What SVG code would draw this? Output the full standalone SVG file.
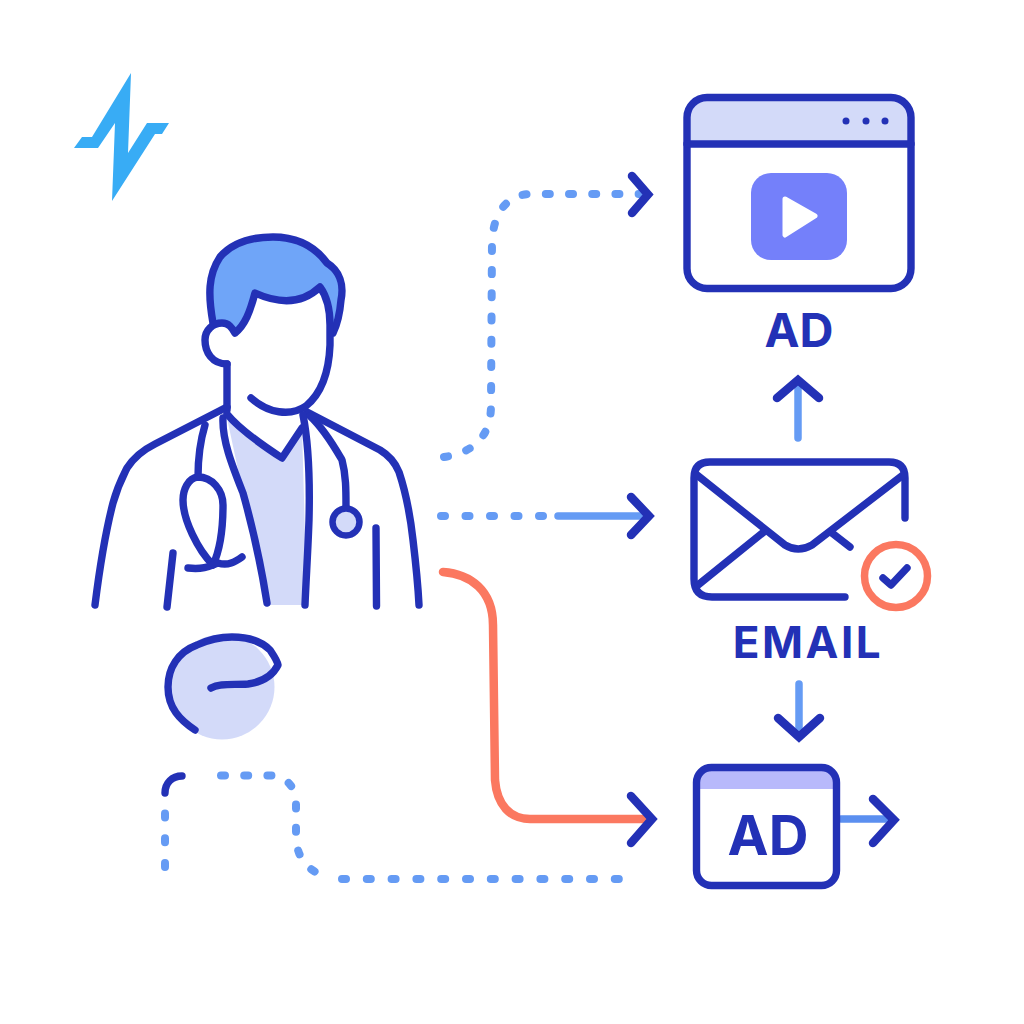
<svg xmlns="http://www.w3.org/2000/svg" width="1024" height="1024" viewBox="0 0 1024 1024">
<style>
.ink{fill:none;stroke:#2331b6;stroke-width:7.400;stroke-linecap:round;stroke-linejoin:round}
.head{fill:none;stroke:#2331b6;stroke-width:8.500;stroke-linecap:round;stroke-linejoin:miter}
.dash{fill:none;stroke:#659bf4;stroke-width:8;stroke-linecap:round;stroke-linejoin:round;stroke-dasharray:4 19.200}
.wide{stroke-dasharray:4 20.800}
.mid{stroke-dasharray:4 20.500}
.solid{fill:none;stroke:#659bf4;stroke-width:7.500;stroke-linecap:round}
.coral{fill:none;stroke:#fb7860;stroke-width:8.500;stroke-linecap:round;stroke-linejoin:round}
.pale{fill:#d3daf9}
.label{font-family:Inter,"Liberation Sans",Arial,sans-serif;font-weight:700;fill:#2331b6;text-anchor:middle}
</style>
<rect width="1024" height="1024" fill="#ffffff"/>
<g id="logo"><path fill="#38acf5" d="M131 73L128 153L147 123H169L162 134H155L112 201L115 123L98 148H74L82 137H92Z"/></g>
<g id="doctor">
<path class="pale" d="M227 418L282 458L302 428L307 605H270L257 547L243 493Z"/>
<path fill="#6fa5f8" d="M213 323C208 295 208 275 220 257C232 243 252 237 273 237C298 237 316 248 327 263C340 271 344 285 341 300C340 312 337 325 333 333C332 310 328 298 320 287C300 306 275 302 255 293C250 312 245 325 235 333C230 324 222 322 213 323Z"/>
<path class="ink" d="M213 323C208 295 208 275 220 257C232 243 252 237 273 237C298 237 316 248 327 263C340 271 344 285 341 300C340 312 337 325 333 333"/>
<path class="ink" d="M227 364C212 364 205 352 205 340C205 330 213 323 222 323C229 323 232 328 235 333C245 325 250 312 255 293C275 302 300 306 320 287C328 298 330 312 330 325V345C329 370 322 393 306 406C290 417 268 413 251 398"/>
<path class="ink" d="M227 364V410"/>
<path class="ink" d="M95 605C100 565 106 530 113 503C118 485 122 478 127 468C134 457 143 450 155 444L227 407"/>
<path class="ink" d="M307 412L380 450C390 456 395 462 399 472C405 490 410 513 413 540C416 565 418 585 419 605"/>
<path class="ink" d="M223 418C222 440 232 465 243 493C252 525 261 565 267 603"/>
<path class="ink" d="M227 414C240 430 262 445 282 458L302 428"/>
<path class="ink" d="M303 415C309 445 310 480 309 520C308 550 306 580 305 605"/>
<path class="ink" d="M205 425C199 445 198 460 198 477"/>
<path class="ink" d="M198 477C188 478 183 490 183 500C183 520 198 550 213 565C220 550 223 530 223 505C223 490 212 477 198 477Z"/>
<path class="ink" d="M188 568C205 570 212 565 218 563C228 566 235 562 242 557"/>
<path class="ink" d="M310 416C325 430 335 448 342 460C346 475 346 490 346 507"/>
<circle class="pale" cx="346" cy="522" r="13.500" stroke="#2331b6" stroke-width="6.500"/>
<path class="ink" d="M173 553L167 607"/>
<path class="ink" d="M376 528L376.500 606"/>
</g>
<g id="blob">
<circle class="pale" cx="222" cy="687" r="52.500"/>
<path class="ink" d="M195 730C180 720 168 708 168 687C168 668 178 652 197 645C210 639 220 637 232 637C248 637 262 642 270 650C274 656 277 660 278 665C272 677 262 682 248 684C232 685 220 683 211 688"/>
</g>
<g id="connectors">
<path class="dash" d="M444 457C470 453 491 440 491 405L492 240C494 215 505 195 530 194H644"/>
<path class="dash mid" d="M441 516H545"/>
<path class="solid" d="M558 516H645"/>
<path class="coral" d="M443 572C470 574 493 590 493 625L495 780C497 805 510 819 530 819H646"/>
<path class="dash wide" d="M165 867V795"/>
<path class="ink" d="M165 793C165 783 172 776 182 776"/>
<path class="dash" d="M221 775.500H270C285 776 296 785 296 805V835C296 855 305 870 325 876"/>
<path class="dash wide" d="M342 879H622"/>
<path class="solid" d="M798 438V385"/>
<path class="solid" d="M799 684V731"/>
<path class="solid" style="stroke:#5b8ff0" d="M841 819H889"/>
<path class="head" d="M632 176L648 194.500L632 213"/>
<path class="head" d="M631 497L649 516L631 535"/>
<path class="head" d="M631 796L652 819L631 843"/>
<path class="head" d="M777 398L798 380L819 398"/>
<path class="head" d="M778 718L799 737L820 718"/>
<path class="head" d="M873 799L894 820L873 843"/>
</g>
<g id="browser-ad">
<path class="pale" d="M687 144V118Q687 97 708 97H890Q911 97 911 118V144Z"/>
<rect class="ink" x="687" y="97.500" width="224" height="191" rx="20"/>
<path class="ink" d="M687 144H911"/>
<circle cx="846" cy="121" r="3.500" fill="#2331b6"/><circle cx="866" cy="121" r="3.500" fill="#2331b6"/><circle cx="885" cy="121" r="3.500" fill="#2331b6"/>
<rect x="751" y="173" width="96" height="87" rx="20" fill="#7480fa"/>
<path d="M785 199L815 216L785 235Z" fill="#ffffff" stroke="#ffffff" stroke-width="5" stroke-linejoin="round"/>
<text class="label" x="799" y="347" font-size="47">AD</text>
</g>
<g id="email">
<path class="ink" d="M845 597H712Q694 597 694 579V478Q694 462 710 462H889Q905 462 905 478V518"/>
<path class="ink" d="M697 475L785 545Q798 553 812 545L903 475"/>
<path class="ink" d="M765 531L698 585"/>
<path class="ink" d="M832 533L850 547"/>
<circle cx="896" cy="576" r="31.500" fill="none" stroke="#fb7860" stroke-width="7.500"/>
<path class="ink" d="M883 578L891 585L907 568"/>
<text class="label" x="808" y="658" font-size="44" letter-spacing="2.500">EMAIL</text>
</g>
<g id="banner-ad">
<path d="M697 789V782Q697 768 711 768H822Q836 768 836 782V789Z" fill="#b8b9fb"/>
<rect class="ink" x="696.500" y="767.500" width="140" height="118" rx="15"/>
<text class="label" x="768" y="855" font-size="55">AD</text>
</g>
</svg>
